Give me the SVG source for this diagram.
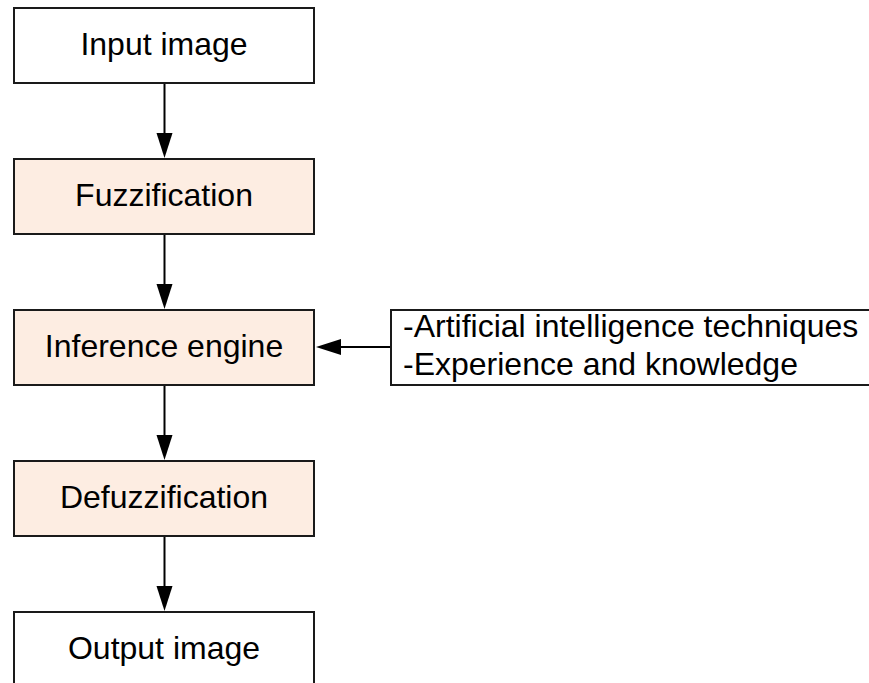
<svg xmlns="http://www.w3.org/2000/svg" width="869" height="683" viewBox="0 0 869 683">
  <style>
    .box { stroke: #1a1a1a; stroke-width: 2; }
    .plain { fill: #ffffff; }
    .stage { fill: #fdede2; }
    .label { font-family: "Liberation Sans", Arial, sans-serif; font-size: 32px; fill: #000000; }
    .mid { text-anchor: middle; }
    .edge { stroke: #000000; stroke-width: 2; fill: none; }
    .head { fill: #000000; stroke: none; }
  </style>
  <rect width="869" height="683" fill="#ffffff"/>

  <g id="input-image">
    <rect class="box plain" x="14" y="8" width="300" height="75"/>
    <text class="label mid" x="164" y="55">Input image</text>
  </g>
  <g id="fuzzification">
    <rect class="box stage" x="14" y="159" width="300" height="75"/>
    <text class="label mid" x="164" y="206">Fuzzification</text>
  </g>
  <g id="inference-engine">
    <rect class="box stage" x="14" y="310" width="300" height="75"/>
    <text class="label mid" x="164" y="357">Inference engine</text>
  </g>
  <g id="defuzzification">
    <rect class="box stage" x="14" y="461" width="300" height="75"/>
    <text class="label mid" x="164" y="508">Defuzzification</text>
  </g>
  <g id="output-image">
    <rect class="box plain" x="14" y="612" width="300" height="75"/>
    <text class="label mid" x="164" y="659">Output image</text>
  </g>
  <g id="knowledge-base">
    <rect class="box plain" x="391" y="310" width="500" height="75"/>
    <text class="label" x="403" y="337">-Artificial intelligence techniques</text>
    <text class="label" x="403" y="375">-Experience and knowledge</text>
  </g>

  <g id="connectors">
    <line class="edge" x1="164.5" y1="84" x2="164.5" y2="134"/>
    <polygon class="head" points="156.5,133 172.5,133 164.5,158"/>
    <line class="edge" x1="164.5" y1="235" x2="164.5" y2="285"/>
    <polygon class="head" points="156.5,284 172.5,284 164.5,309"/>
    <line class="edge" x1="164.5" y1="386" x2="164.5" y2="436"/>
    <polygon class="head" points="156.5,435 172.5,435 164.5,460"/>
    <line class="edge" x1="164.5" y1="537" x2="164.5" y2="587"/>
    <polygon class="head" points="156.5,586 172.5,586 164.5,611"/>
    <line class="edge" x1="390" y1="347" x2="340" y2="347"/>
    <polygon class="head" points="341,339 341,355 316,347"/>
  </g>
</svg>
